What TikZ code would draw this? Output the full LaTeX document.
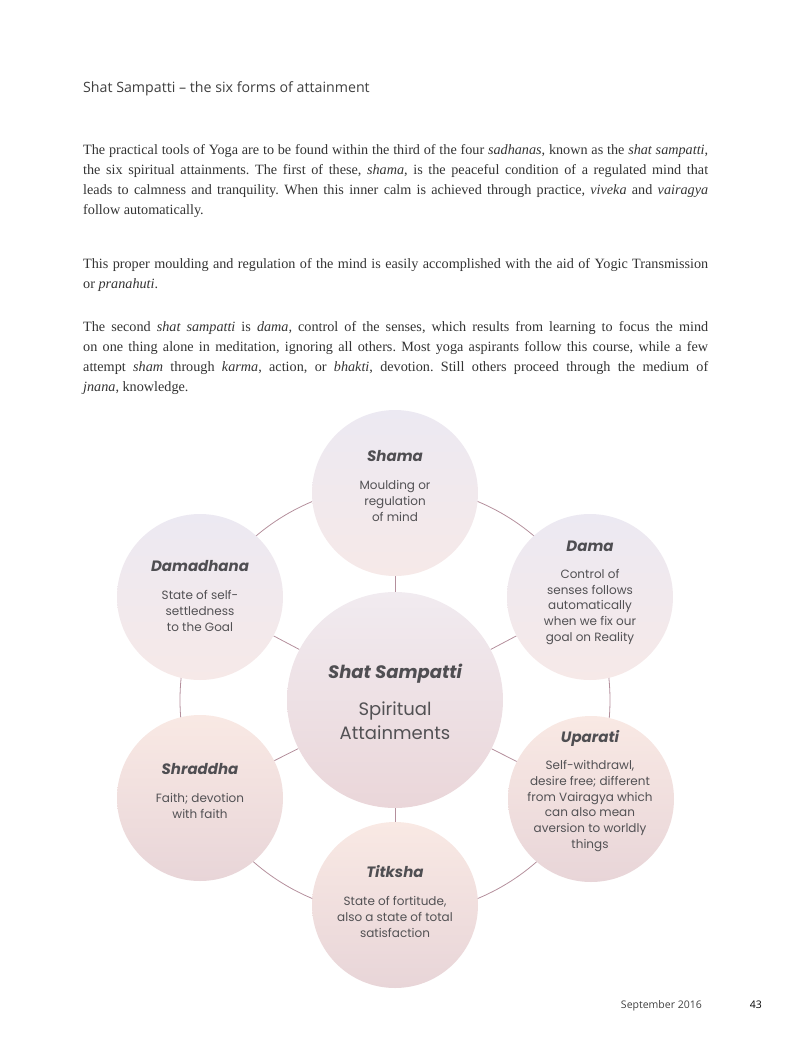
\documentclass[tikz,border=0pt]{standalone}
\usepackage{fontspec}
\setmainfont{Liberation Serif}
\newfontfamily\titlefont{Open Sans}
\newfontfamily\circfont{Poppins}
\usetikzlibrary{backgrounds}
\definecolor{ringc}{HTML}{B48F9C}
\definecolor{lavT}{HTML}{ECE9F2}
\definecolor{lavM}{HTML}{F2EAEF}
\definecolor{lavB}{HTML}{F6E9E8}
\definecolor{pchT}{HTML}{F9E9E4}
\definecolor{pchM}{HTML}{F6E4E0}
\definecolor{pchB}{HTML}{E8D5D8}
\definecolor{ctrT}{HTML}{F1EBF0}
\definecolor{ctrM}{HTML}{F9E6DF}
\definecolor{ctrB}{HTML}{EAD6D9}
\definecolor{headc}{HTML}{4F4E52}
\definecolor{descc}{HTML}{525154}
\definecolor{bodyc}{HTML}{333333}
\definecolor{titlec}{HTML}{404040}
\tikzset{
  ball/.style={circle, draw=none, inner sep=0pt, minimum size=166pt},
  toprow/.style={ball, top color=lavT, middle color=lavM, bottom color=lavB},
  botrow/.style={ball, top color=pchT, middle color=pchM, bottom color=pchB},
  hub/.style={circle, draw=none, inner sep=0pt, minimum size=216pt, top color=ctrT, middle color=ctrM, bottom color=ctrB},
  headtxt/.style={font=\circfont\bfseries\itshape\fontsize{15}{18}\selectfont, text=headc, inner sep=0pt},
  desctxt/.style={font=\circfont\fontsize{12}{15.8}\selectfont, text=descc, align=center, inner sep=0pt},
  link/.style={draw=ringc, line width=0.8pt},
  para/.style={anchor=base west, inner sep=0pt, text=bodyc},
}
\newcommand{\bodypar}[1]{\parbox[t]{625pt}{\fontsize{14.2}{20}\selectfont\frenchspacing\setlength{\parindent}{0pt}\tolerance=10000\hbadness=10000 #1}}
\begin{document}
\begin{tikzpicture}[x=1pt,y=-1pt]
\useasboundingbox (0,0) rectangle (792,1037);
% title
\node[anchor=base west, inner sep=0pt, text=titlec, font=\titlefont\fontsize{14.2}{16}\selectfont] (title) at (83,92) {Shat Sampatti – the six forms of attainment};
% paragraphs
\node[para] (p1) at (83,154) {\bodypar{The practical tools of Yoga are to be found within the third of the four \textit{sadhanas}, known as the \textit{shat sampatti},\linebreak
the six spiritual attainments. The first of these, \textit{shama}, is the peaceful condition of a regulated mind that\linebreak
leads to calmness and tranquility. When this inner calm is achieved through practice, \textit{viveka} and \textit{vairagya}\linebreak
follow automatically.}};
\node[para] (p2) at (83,268) {\bodypar{This proper moulding and regulation of the mind is easily accomplished with the aid of Yogic Transmission\linebreak
or \textit{pranahuti}.}};
\node[para] (p3) at (83,331) {\bodypar{The second \textit{shat sampatti} is \textit{dama,} control of the senses, which results from learning to focus the mind\linebreak
on one thing alone in meditation, ignoring all others. Most yoga aspirants follow this course, while a few\linebreak
attempt \textit{sham} through \textit{karma}, action, or \textit{bhakti}, devotion. Still others proceed through the medium of\linebreak
\textit{jnana}, knowledge.}};
% circles
\node[hub] (ctr) at (395,700) {};
\node[toprow] (shama) at (395,493) {};
\node[toprow] (dama) at (590,597) {};
\node[toprow] (damad) at (200,597) {};
\node[botrow] (upar) at (591,799) {};
\node[botrow] (shrad) at (200,798) {};
\node[botrow] (titk) at (395,905) {};
% connectors behind
\begin{scope}[on background layer]
\draw[link] (ctr) circle[radius=215pt];
\draw[link] (ctr) -- (shama);
\draw[link] (ctr) -- (dama);
\draw[link] (ctr) -- (damad);
\draw[link] (ctr) -- (upar);
\draw[link] (ctr) -- (shrad);
\draw[link] (ctr) -- (titk);
\end{scope}
% texts
\node[headtxt] (h1) at (395,456) {Shama};
\node[desctxt] (d1) at (395,501) {Moulding or\\regulation\\of mind};
\node[headtxt] (h2) at (590,546) {Dama};
\node[desctxt] (d2) at (590,607) {Control of\\senses follows\\automatically\\when we fix our\\goal on Reality};
\node[headtxt] (h3) at (200,566) {Damadhana};
\node[desctxt] (d3) at (200,611) {State of self-\\settledness\\to the Goal};
\node[headtxt, font=\circfont\bfseries\itshape\fontsize{18}{22}\selectfont] (h0) at (395,674) {Shat Sampatti};
\node[desctxt, font=\circfont\fontsize{18}{24}\selectfont] (d0) at (395,721) {Spiritual\\Attainments};
\node[headtxt] (h4) at (590,738) {Uparati};
\node[desctxt] (d4) at (590,806) {Self-withdrawl,\\desire free; different\\from Vairagya which\\can also mean\\aversion to worldly\\things};
\node[headtxt] (h5) at (200,769) {Shraddha};
\node[desctxt] (d5) at (200,806) {Faith; devotion\\with faith};
\node[headtxt] (h6) at (395,872) {Titksha};
\node[desctxt] (d6) at (395,917) {State of fortitude,\\also a state of total\\satisfaction};
% footer
\node[anchor=base east, inner sep=0pt, text=titlec, font=\titlefont\fontsize{10.5}{12}\selectfont] (date) at (702,1008) {September 2016};
\node[anchor=base east, inner sep=0pt, text=black, font=\titlefont\fontsize{10.5}{12}\selectfont] (page) at (762,1008) {43};
\end{tikzpicture}
\end{document}
